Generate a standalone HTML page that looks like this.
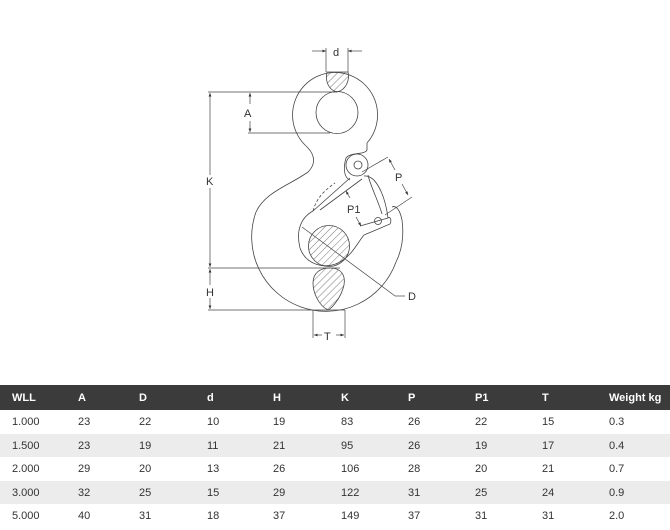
<!DOCTYPE html>
<html><head><meta charset="utf-8"><style>
body{margin:0;width:670px;height:530px;background:#fff;font-family:"Liberation Sans",sans-serif;position:relative;overflow:hidden}
svg{position:absolute;left:0;top:0}
table{position:absolute;left:0;top:385px;width:670px;border-collapse:collapse;font-size:11px;color:#333}
th{background:#3b3b3b;color:#fff;font-weight:bold;text-align:left;height:25px;padding:0}
td{height:21.5px;padding:2px 0 0 0;line-height:13px}
tr.g td{background:#ececec}
th:first-child,td:first-child{padding-left:12px}
</style></head><body>
<svg width="670" height="380" viewBox="0 0 670 380">
<defs>
<pattern id="h" width="5" height="5" patternUnits="userSpaceOnUse" patternTransform="rotate(45)"><line x1="0" y1="0" x2="0" y2="5" stroke="#555" stroke-width="0.8"/></pattern>
<marker id="a" markerWidth="6" markerHeight="6" refX="5" refY="3" orient="auto"><path d="M0,1 L5,3 L0,5z" fill="#333"/></marker>
</defs>
<g fill="none" stroke="#444" stroke-width="0.8">
<path d="M305,145 A42.5,42.5 0 1 1 367,143"/>
<circle cx="337" cy="112.5" r="21"/>
<path d="M305,145 C313,152 318,162 308,172 C290,185 265,192 256,212"/>
<path d="M256,212 A74,74 0 1 0 396,262"/>
<path d="M396,262 C402,250 404,235 402,220 C400,210 396,205 392,207"/>
<path d="M367,143 L367,150 C365,155 350,152 346,158 C343,168 344,178 350,180"/>
<circle cx="357" cy="165" r="11"/>
<circle cx="358" cy="165" r="4"/>
<path d="M350,178 L313,211 M362,179 L320,210"/>
<path d="M313,211 C316,200 322,192 335,183" stroke-dasharray="3,2"/>
<path d="M364,176 C376,175 385,195 388,218 M368,175 C370,185 378,200 382,214"/>
<path d="M360,226 L388,218 M364,235 L390,224 C392,220 390,216 388,218"/>
<circle cx="378" cy="221" r="3.5"/>
<path d="M313,211 C300,218 296,232 300,248 C306,265 325,270 340,262 C352,255 356,245 364,235"/>
<circle cx="329" cy="246" r="20.5" fill="url(#h)"/>
<path d="M327,72 L348,72 C350,80 346,90 337,92 C328,90 325,80 327,72z" fill="url(#h)"/>
<path d="M330,268 C340,268 346,274 344,285 C341,298 332,308 328,310 C318,305 313,292 313,283 C313,273 320,268 330,268z" fill="url(#h)"/>
</g>
<g stroke="#444" stroke-width="0.7" fill="none">
<line x1="326" y1="48" x2="326" y2="72"/><line x1="348" y1="48" x2="348" y2="72"/>
<line x1="312" y1="51" x2="326" y2="51" marker-end="url(#a)"/><line x1="362" y1="51" x2="348" y2="51" marker-end="url(#a)"/>
<line x1="208" y1="92" x2="337" y2="92"/><line x1="248" y1="133" x2="330" y2="133"/>
<line x1="250" y1="104" x2="250" y2="93" marker-end="url(#a)"/><line x1="250" y1="121" x2="250" y2="132" marker-end="url(#a)"/>
<line x1="210" y1="175" x2="210" y2="93" marker-end="url(#a)"/><line x1="210" y1="188" x2="210" y2="267" marker-end="url(#a)"/>
<line x1="208" y1="268" x2="340" y2="268"/><line x1="208" y1="310" x2="345" y2="310"/>
<line x1="210" y1="285" x2="210" y2="269" marker-end="url(#a)"/><line x1="210" y1="298" x2="210" y2="309" marker-end="url(#a)"/>
<line x1="313" y1="310" x2="313" y2="338"/><line x1="345" y1="310" x2="345" y2="338"/>
<line x1="322" y1="335" x2="314" y2="335" marker-end="url(#a)"/><line x1="336" y1="335" x2="344" y2="335" marker-end="url(#a)"/>
<line x1="362" y1="172" x2="388" y2="157"/><line x1="385" y1="215" x2="412" y2="197"/>
<line x1="395" y1="170" x2="389" y2="159" marker-end="url(#a)"/><line x1="402" y1="184" x2="408" y2="195" marker-end="url(#a)"/>
<line x1="350" y1="198" x2="346" y2="191" marker-end="url(#a)"/><line x1="356" y1="217" x2="361" y2="226" marker-end="url(#a)"/>
<line x1="302" y1="227" x2="395" y2="296"/><line x1="395" y1="296" x2="405" y2="296"/>
</g>
<g font-size="11" fill="#333">
<text x="333" y="56">d</text><text x="244" y="117">A</text><text x="206" y="185">K</text>
<text x="206" y="296">H</text><text x="324" y="340">T</text><text x="395" y="181">P</text>
<text x="347" y="213">P1</text><text x="408" y="300">D</text>
</g>
</svg>
<table>
<tr><th style="width:66px">WLL</th><th style="width:61px">A</th><th style="width:68px">D</th><th style="width:66px">d</th><th style="width:68px">H</th><th style="width:67px">K</th><th style="width:67px">P</th><th style="width:67px">P1</th><th style="width:67px">T</th><th>Weight kg</th></tr>
<tr><td>1.000</td><td>23</td><td>22</td><td>10</td><td>19</td><td>83</td><td>26</td><td>22</td><td>15</td><td>0.3</td></tr>
<tr class="g"><td>1.500</td><td>23</td><td>19</td><td>11</td><td>21</td><td>95</td><td>26</td><td>19</td><td>17</td><td>0.4</td></tr>
<tr><td>2.000</td><td>29</td><td>20</td><td>13</td><td>26</td><td>106</td><td>28</td><td>20</td><td>21</td><td>0.7</td></tr>
<tr class="g"><td>3.000</td><td>32</td><td>25</td><td>15</td><td>29</td><td>122</td><td>31</td><td>25</td><td>24</td><td>0.9</td></tr>
<tr><td>5.000</td><td>40</td><td>31</td><td>18</td><td>37</td><td>149</td><td>37</td><td>31</td><td>31</td><td>2.0</td></tr>
</table>
</body></html>
